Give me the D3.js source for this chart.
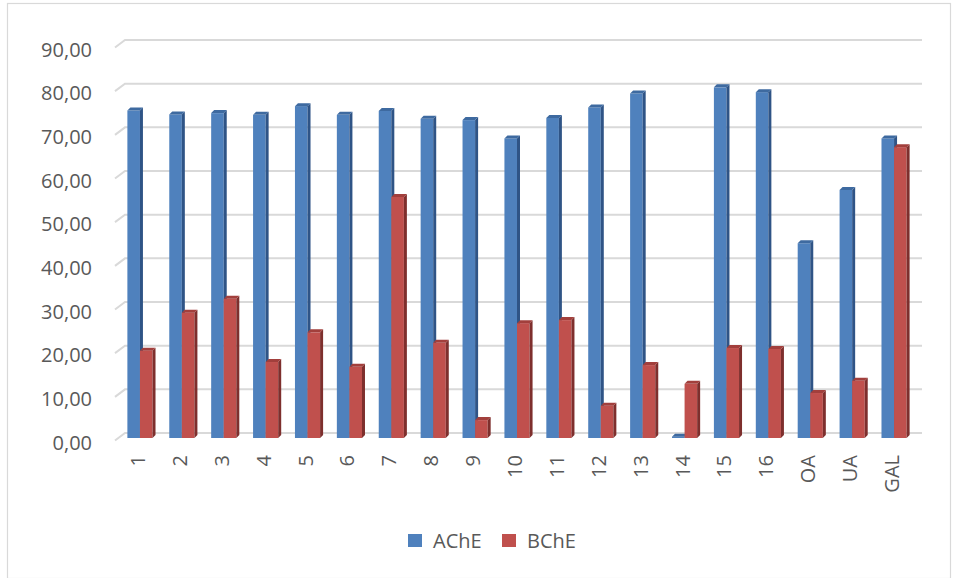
<!DOCTYPE html>
<html>
<head>
<meta charset="utf-8">
<script src="https://cdn.jsdelivr.net/npm/d3@7"></script>
<style>
  body { margin: 0; background: #fff; }
  svg { display: block; font-family: "Open Sans", sans-serif; }
</style>
</head>
<body>
<svg id="chart" width="958" height="578"></svg>
<script>
// values
const categories = ["1", "2", "3", "4", "5", "6", "7", "8", "9", "10",
  "11", "12", "13", "14", "15", "16", "OA", "UA", "GAL"];
const ache = [75.0, 74.1, 74.4, 74.0, 76.0, 74.0, 74.9, 73.1, 72.8, 68.6,
  73.3, 75.7, 78.9, 0.3, 80.3, 79.2, 44.6, 56.8, 68.6];
const bche = [20.0, 28.7, 31.9, 17.4, 24.2, 16.3, 55.2, 21.8, 4.1, 26.3,
  27.0, 7.4, 16.7, 12.4, 20.6, 20.4, 10.3, 13.1, 66.6];
const series = ["AChE", "BChE"];
const yTicks = [0, 10, 20, 30, 40, 50, 60, 70, 80, 90];

const colors = {
  AChE: { front: "#4F81BD", side: "#2F5486", top: "#3E6AA0" },
  BChE: { front: "#C0504D", side: "#7E2F2D", top: "#A23F3C" }
};

const svg = d3.select("#chart");
const depth = 3; // fake 3d offset of the bars

// outer frame
svg.append("rect")
  .attr("x", 7.5).attr("y", 3.5)
  .attr("width", 943).attr("height", 575)
  .attr("fill", "none")
  .attr("stroke", "#d9d9d9")
  .attr("stroke-width", 1.2);

const y = d3.scaleLinear().domain([0, 90]).range([438, 45]);
const x = d3.scaleBand().domain(categories).range([119, 915])
  .paddingInner(0.4).paddingOuter(0.2);
const xs = d3.scaleBand().domain(series).range([0, x.bandwidth()]);

// back wall gridlines with the little floor slant on the left
const grid = svg.append("g").attr("class", "grid");
grid.selectAll("path")
  .data(yTicks)
  .join("path")
  .attr("d", (v) => `M115,${y(v) + 2.5}L125,${y(v) - 5}H922`)
  .attr("fill", "none")
  .attr("stroke", "#d9d9d9")
  .attr("stroke-width", 2);

// y labels
svg.append("g")
  .selectAll("text")
  .data(yTicks)
  .join("text")
  .attr("x", 92)
  .attr("y", (v) => y(v) + 4.5)
  .attr("dy", "0.35em")
  .attr("text-anchor", "end")
  .attr("font-size", 20)
  .attr("fill", "#595959")
  .text((v) => d3.format(".2f")(v).replace(".", ","));

// bars
const rows = categories.map((c, i) => ({ cat: c, AChE: ache[i], BChE: bche[i] }));
const groups = svg.append("g").attr("class", "bars")
  .selectAll("g")
  .data(rows)
  .join("g")
  .attr("transform", (d) => `translate(${x(d.cat)},0)`);

series.forEach((s) => {
  const w = xs.bandwidth();
  const x0 = xs(s);
  const y0 = y(0);
  const g = groups.append("g");
  g.append("rect")
    .attr("x", x0)
    .attr("y", (d) => y(d[s]))
    .attr("width", w)
    .attr("height", (d) => y0 - y(d[s]))
    .attr("fill", colors[s].front);
  g.append("path")
    .attr("d", (d) => {
      const yt = y(d[s]);
      return `M${x0 + w},${yt}l${depth},${-depth}V${y0 - depth}l${-depth},${depth}Z`;
    })
    .attr("fill", colors[s].side);
  g.append("path")
    .attr("d", (d) => {
      const yt = y(d[s]);
      return `M${x0},${yt}l${depth},${-depth}h${w}l${-depth},${depth}Z`;
    })
    .attr("fill", colors[s].top);
});

// x labels, rotated
svg.append("g")
  .selectAll("text")
  .data(categories)
  .join("text")
  .attr("transform", (c) => `translate(${x(c) + x.bandwidth() / 2 - 2},455) rotate(-90)`)
  .attr("dy", "0.35em")
  .attr("text-anchor", "end")
  .attr("font-size", 20)
  .attr("fill", "#595959")
  .text((c) => c);

// legend
const legend = svg.append("g").attr("class", "legend");
const legendX = [408, 502];
series.forEach((s, i) => {
  legend.append("rect")
    .attr("x", legendX[i]).attr("y", 534)
    .attr("width", 14).attr("height", 13)
    .attr("fill", colors[s].front);
  legend.append("text")
    .attr("x", legendX[i] + 25).attr("y", 541)
    .attr("dy", "0.35em")
    .attr("font-size", 20)
    .attr("fill", "#595959")
    .text(s);
});
</script>
</body>
</html>
